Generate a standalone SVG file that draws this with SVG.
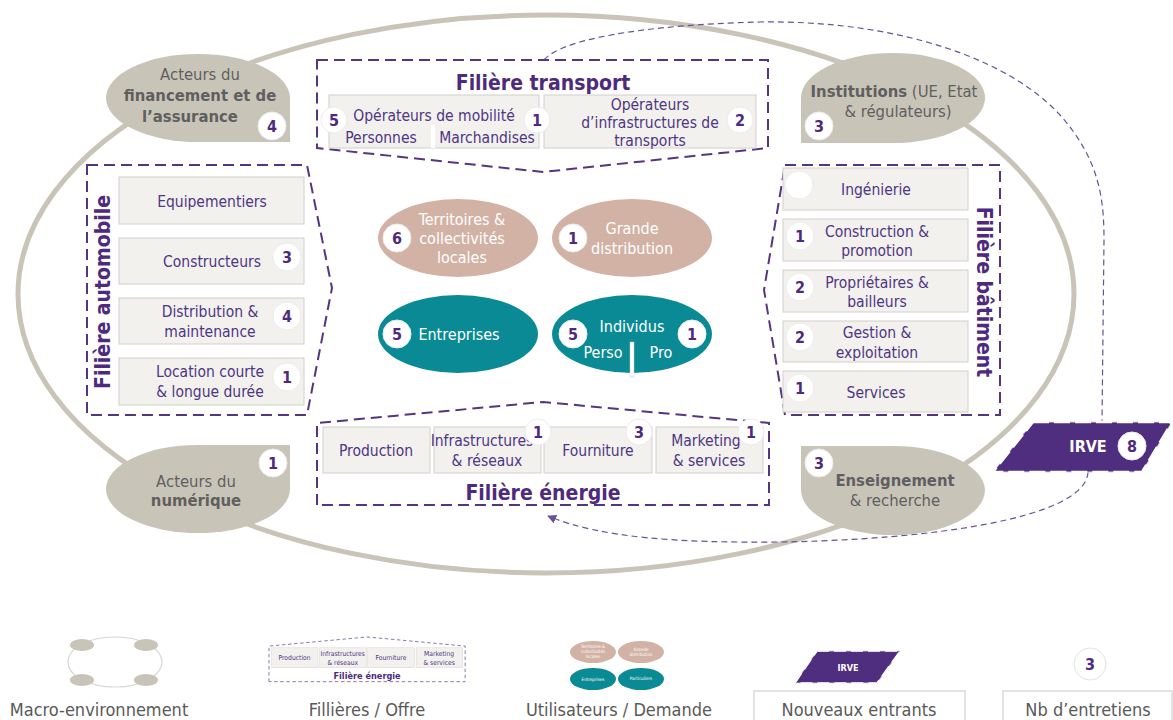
<svg xmlns="http://www.w3.org/2000/svg" width="1173" height="720" viewBox="0 0 1173 720">
<style>
text{font-family:"DejaVu Sans Condensed","DejaVu Sans",sans-serif;}
.bx{fill:#f2f1ee;stroke:#d2d0cc;stroke-width:1;}
.bt{fill:#4f3584;font-size:15.5px;text-anchor:middle;}
.title{fill:#4e2a7e;font-size:21px;font-weight:bold;text-anchor:middle;}
.frame{fill:#fff;stroke:#55357f;stroke-width:2;stroke-dasharray:11,6;}
.grey{fill:#c9c4b8;}
.gt{fill:#5f5f5f;font-size:16.5px;text-anchor:middle;}
.gb{font-weight:bold;}
.badge circle{fill:#fff;stroke:#ececec;stroke-width:1;}
.badge text{fill:#4e2a7e;font-size:16px;font-weight:bold;text-anchor:middle;}
.wt{fill:#fff;font-size:16px;text-anchor:middle;}
.rose{fill:#d2b2a4;}
.teal{fill:#0a8a94;}
.leg{fill:#595959;font-size:18px;text-anchor:middle;}
.conn{fill:none;stroke:#6a5196;stroke-width:1.2;stroke-dasharray:6,4;}
</style>
<defs>
<marker id="arr" viewBox="0 0 10 10" refX="9" refY="5" markerWidth="9" markerHeight="9" orient="auto" markerUnits="userSpaceOnUse">
<path d="M0,0 L10,5 L0,10 Z" fill="#6a5196"/>
</marker>
</defs>
<rect width="1173" height="720" fill="#fff"/>

<!-- macro-environment ring -->
<ellipse cx="546" cy="294" rx="528" ry="279" fill="none" stroke="#c9c4b8" stroke-width="5"/>

<!-- connectors -->
<g id="connectors">
<path class="conn" d="M544,60 C560,40 640,25 760,22 C900,20 1010,60 1060,115 C1100,160 1104,200 1104,240 L1102,422"/>
<path class="conn" d="M1088,472 C1086,520 920,540 780,542 C680,543 600,538 548,516" marker-end="url(#arr)"/>
</g>

<!-- Acteurs du financement -->
<g id="financement">
<path class="grey" d="M106,98 A92,44 0 0 1 290,98 L290,142 L198,142 A92,44 0 0 1 106,98 Z"/>
<text class="gt" x="200" y="80">Acteurs du</text>
<text class="gt gb" x="200" y="101">financement et de</text>
<text class="gt gb" x="190" y="122">l’assurance</text>
<g class="badge"><circle cx="272" cy="126" r="14"/><text x="272" y="132">4</text></g>
</g>

<!-- Institutions -->
<g id="institutions">
<path class="grey" d="M801,98 A92,45 0 0 1 985,98 A92,45 0 0 1 893,143 L801,143 Z"/>
<text class="gt" x="894" y="97"><tspan class="gb">Institutions</tspan> (UE, Etat</text>
<text class="gt" x="898" y="117">&amp; régulateurs)</text>
<g class="badge"><circle cx="819" cy="126" r="14"/><text x="819" y="132">3</text></g>
</g>

<!-- Acteurs du numérique -->
<g id="numerique">
<path class="grey" d="M106,489 A92,44 0 0 1 198,445 L290,445 L290,489 A92,44 0 0 1 106,489 Z"/>
<text class="gt" x="196" y="487">Acteurs du</text>
<text class="gt gb" x="196" y="506">numérique</text>
<g class="badge"><circle cx="273" cy="463" r="14"/><text x="273" y="469">1</text></g>
</g>

<!-- Enseignement -->
<g id="enseignement">
<path class="grey" d="M801,446 L893,446 A92,45 0 0 1 985,490 A92,45 0 0 1 801,490 Z"/>
<text class="gt gb" x="895" y="486">Enseignement</text>
<text class="gt" x="895" y="506">&amp; recherche</text>
<g class="badge"><circle cx="819" cy="463" r="14"/><text x="819" y="469">3</text></g>
</g>

<!-- Filière transport -->
<g id="transport">
<polygon class="frame" points="317,60 768,60 768,148 543,172 317,148"/>
<text class="title" x="543" y="90">Filière transport</text>
<rect class="bx" x="329" y="95" width="210" height="53"/>
<rect class="bx" x="544" y="95" width="212" height="53"/>
<text class="bt" x="434" y="121">Opérateurs de mobilité</text>
<text class="bt" x="381" y="143">Personnes</text>
<text class="bt" x="487" y="143">Marchandises</text>
<rect x="431" y="125" width="4" height="23" fill="#fff"/>
<text class="bt" x="650" y="110">Opérateurs</text>
<text class="bt" x="650" y="128">d’infrastructures de</text>
<text class="bt" x="650" y="146">transports</text>
<g class="badge"><circle cx="334" cy="120" r="13"/><text x="334" y="126">5</text></g>
<g class="badge"><circle cx="537" cy="120" r="13"/><text x="537" y="126">1</text></g>
<g class="badge"><circle cx="740" cy="120" r="13"/><text x="740" y="126">2</text></g>
</g>

<!-- Filière automobile -->
<g id="automobile">
<polygon class="frame" points="87,165 307,165 332,288 307,415 87,415"/>
<text class="title" transform="translate(110,292) rotate(-90)">Filière automobile</text>
<rect class="bx" x="119" y="177" width="185" height="47"/>
<rect class="bx" x="119" y="238" width="185" height="46"/>
<rect class="bx" x="119" y="298" width="185" height="46"/>
<rect class="bx" x="119" y="358" width="185" height="47"/>
<text class="bt" x="212" y="207">Equipementiers</text>
<text class="bt" x="212" y="267">Constructeurs</text>
<text class="bt" x="210" y="317">Distribution &amp;</text>
<text class="bt" x="210" y="337">maintenance</text>
<text class="bt" x="210" y="377">Location courte</text>
<text class="bt" x="210" y="397">&amp; longue durée</text>
<g class="badge"><circle cx="287" cy="257" r="14"/><text x="287" y="263">3</text></g>
<g class="badge"><circle cx="287" cy="316" r="14"/><text x="287" y="322">4</text></g>
<g class="badge"><circle cx="287" cy="377" r="14"/><text x="287" y="383">1</text></g>
</g>

<!-- Filière bâtiment -->
<g id="batiment">
<polygon class="frame" points="785,165 1000,165 1000,415 785,415 764,290"/>
<text class="title" transform="translate(977,292) rotate(90)">Filière bâtiment</text>
<rect class="bx" x="783" y="168" width="185" height="42"/>
<rect class="bx" x="783" y="219" width="185" height="42"/>
<rect class="bx" x="783" y="270" width="185" height="42"/>
<rect class="bx" x="783" y="321" width="185" height="41"/>
<rect class="bx" x="783" y="371" width="185" height="41"/>
<text class="bt" x="876" y="195">Ingénierie</text>
<text class="bt" x="877" y="237">Construction &amp;</text>
<text class="bt" x="877" y="256">promotion</text>
<text class="bt" x="877" y="288">Propriétaires &amp;</text>
<text class="bt" x="877" y="307">bailleurs</text>
<text class="bt" x="877" y="338">Gestion &amp;</text>
<text class="bt" x="877" y="358">exploitation</text>
<text class="bt" x="876" y="398">Services</text>
<g class="badge"><circle cx="799" cy="185" r="14"/></g>
<g class="badge"><circle cx="800" cy="236" r="14"/><text x="800" y="242">1</text></g>
<g class="badge"><circle cx="800" cy="287" r="14"/><text x="800" y="293">2</text></g>
<g class="badge"><circle cx="800" cy="337" r="14"/><text x="800" y="343">2</text></g>
<g class="badge"><circle cx="800" cy="388" r="14"/><text x="800" y="394">1</text></g>
</g>

<!-- Filière énergie -->
<g id="energie">
<polygon class="frame" points="317,505 317,423 543,402 769,423 769,505"/>
<text class="title" x="543" y="500">Filière énergie</text>
<rect class="bx" x="323" y="427" width="107" height="46"/>
<rect class="bx" x="434" y="427" width="107" height="46"/>
<rect class="bx" x="544" y="427" width="108" height="46"/>
<rect class="bx" x="656" y="427" width="107" height="46"/>
<text class="bt" x="376" y="456">Production</text>
<text class="bt" x="482" y="446" font-size="13.5">Infrastructures</text>
<text class="bt" x="487" y="466">&amp; réseaux</text>
<text class="bt" x="598" y="456">Fourniture</text>
<text class="bt" x="706" y="446">Marketing</text>
<text class="bt" x="709" y="466">&amp; services</text>
<g class="badge"><circle cx="538" cy="432" r="13"/><text x="538" y="438">1</text></g>
<g class="badge"><circle cx="639" cy="432" r="13"/><text x="639" y="438">3</text></g>
<g class="badge"><circle cx="751" cy="432" r="13"/><text x="751" y="438">1</text></g>
</g>

<!-- Users -->
<g id="territoires">
<ellipse class="rose" cx="458" cy="238" rx="80" ry="39"/>
<text class="wt" x="462" y="225" font-size="14">Territoires  &amp;</text>
<text class="wt" x="462" y="244" font-size="14">collectivités</text>
<text class="wt" x="462" y="263" font-size="14">locales</text>
<g class="badge"><circle cx="397" cy="238" r="14"/><text x="397" y="244">6</text></g>
</g>
<g id="grande-distribution">
<ellipse class="rose" cx="632" cy="238" rx="80" ry="39"/>
<text class="wt" x="632" y="234">Grande</text>
<text class="wt" x="632" y="254">distribution</text>
<g class="badge"><circle cx="573" cy="238" r="14"/><text x="573" y="244">1</text></g>
</g>
<g id="entreprises">
<ellipse class="teal" cx="458" cy="334" rx="80" ry="39"/>
<text class="wt" x="459" y="340">Entreprises</text>
<g class="badge"><circle cx="397" cy="334" r="14"/><text x="397" y="340">5</text></g>
</g>
<g id="individus">
<ellipse class="teal" cx="632" cy="334" rx="80" ry="39"/>
<text class="wt" x="632" y="332">Individus</text>
<text class="wt" x="603" y="358">Perso</text>
<text class="wt" x="661" y="358">Pro</text>
<rect x="630" y="342" width="4" height="35" fill="#fff" stroke="#c8c8c8" stroke-width="0.5"/>
<g class="badge"><circle cx="573" cy="334" r="14"/><text x="573" y="340">5</text></g>
<g class="badge"><circle cx="692" cy="334" r="14"/><text x="692" y="340">1</text></g>
</g>

<!-- IRVE -->
<g id="irve">
<polygon points="1033,422 1172,422 1142,472 993,472" fill="#4f2d7f" stroke="#d6d6d6" stroke-width="1"/>
<polygon points="1033,422 1172,422 1142,472 993,472" fill="none" stroke="#fff" stroke-width="2.5" stroke-dasharray="16,5"/>
<text x="1088" y="452" fill="#fff" font-size="16" font-weight="bold" text-anchor="middle">IRVE</text>
<g class="badge"><circle cx="1132" cy="446" r="14"/><text x="1132" y="452">8</text></g>
</g>

<!-- Legend -->
<g id="legend-macro">
<ellipse cx="115" cy="662" rx="47" ry="25" fill="none" stroke="#d8d6d0" stroke-width="1.2"/>
<ellipse class="grey" cx="82" cy="645" rx="12" ry="6"/>
<ellipse class="grey" cx="146" cy="645" rx="12" ry="6"/>
<ellipse class="grey" cx="82" cy="680" rx="12" ry="6"/>
<ellipse class="grey" cx="146" cy="680" rx="12" ry="6"/>
<text class="leg" x="99" y="716">Macro-environnement</text>
</g>
<g id="legend-filieres">
<g transform="translate(131.4,462.5) scale(0.434)">
<polygon points="317,505 317,423 543,402 769,423 769,505" fill="#fff" stroke="#7a62a0" stroke-width="2" stroke-dasharray="8,6"/>
<rect class="bx" x="323" y="427" width="107" height="46"/>
<rect class="bx" x="434" y="427" width="107" height="46"/>
<rect class="bx" x="544" y="427" width="108" height="46"/>
<rect class="bx" x="656" y="427" width="107" height="46"/>
<text class="bt" x="376" y="456" font-size="15">Production</text>
<text class="bt" x="487" y="446" font-size="15">Infrastructures</text>
<text class="bt" x="487" y="466" font-size="15">&amp; réseaux</text>
<text class="bt" x="598" y="456" font-size="15">Fourniture</text>
<text class="bt" x="709" y="446" font-size="15">Marketing</text>
<text class="bt" x="709" y="466" font-size="15">&amp; services</text>
<text class="title" x="543" y="498">Filière énergie</text>
</g>
<text class="leg" x="367" y="716">Fillières / Offre</text>
</g>
<g id="legend-users">
<ellipse class="rose" cx="593" cy="652" rx="23" ry="11"/>
<ellipse class="rose" cx="641" cy="652" rx="23" ry="11"/>
<ellipse class="teal" cx="593" cy="679" rx="23" ry="11"/>
<ellipse class="teal" cx="641" cy="679" rx="23" ry="11"/>
<text x="593" y="648" fill="#fff" font-size="4.5" text-anchor="middle">Territoires &amp;</text>
<text x="593" y="653" fill="#fff" font-size="4.5" text-anchor="middle">collectivités</text>
<text x="593" y="658" fill="#fff" font-size="4.5" text-anchor="middle">locales</text>
<text x="641" y="651" fill="#fff" font-size="4.5" text-anchor="middle">Grande</text>
<text x="641" y="656" fill="#fff" font-size="4.5" text-anchor="middle">distribution</text>
<text x="593" y="681" fill="#fff" font-size="4.5" text-anchor="middle">Entreprises</text>
<text x="641" y="680" fill="#fff" font-size="4.5" text-anchor="middle">Particuliers</text>
<text class="leg" x="619" y="716">Utilisateurs / Demande</text>
</g>
<g id="legend-irve">
<polygon points="817,651 900,651 877,683 795,683" fill="#4f2d7f" stroke="#d6d6d6" stroke-width="0.8"/>
<polygon points="817,651 900,651 877,683 795,683" fill="none" stroke="#fff" stroke-width="1.5" stroke-dasharray="12,5"/>
<text x="848" y="671" fill="#fff" font-size="9" font-weight="bold" text-anchor="middle">IRVE</text>
<rect x="754" y="691" width="211" height="40" fill="#fff" stroke="#c8c8c8" stroke-width="1"/>
<text class="leg" x="859" y="716">Nouveaux entrants</text>
</g>
<g id="legend-badge">
<circle cx="1090" cy="664" r="16" fill="#fff" stroke="#e2e2e2" stroke-width="1"/>
<text x="1090" y="670" fill="#4e2a7e" font-size="16" font-weight="bold" text-anchor="middle">3</text>
<rect x="1003" y="691" width="169" height="40" fill="#fff" stroke="#c8c8c8" stroke-width="1"/>
<text class="leg" x="1088" y="716">Nb d’entretiens</text>
</g>
</svg>
